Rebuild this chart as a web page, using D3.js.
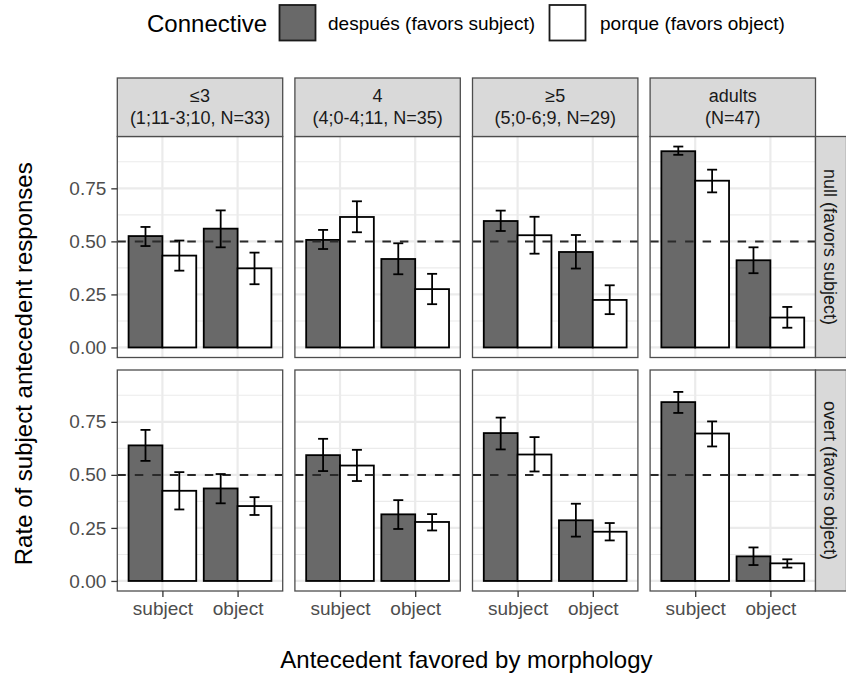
<!DOCTYPE html>
<html><head><meta charset="utf-8">
<script src="https://cdn.jsdelivr.net/npm/d3@7"></script>
<style>body{margin:0;background:#fff}svg{display:block;font-family:"Liberation Sans",Arial,Helvetica,sans-serif}</style>
</head><body><svg id="c" width="846" height="677"></svg>
<script>
// ---------- data ----------
const stripLine1 = ["≤3", "4", "≥5", "adults"];
const stripLine2 = ["(1;11-3;10, N=33)", "(4;0-4;11, N=35)", "(5;0-6;9, N=29)", "(N=47)"];
const rowLabels = ["null (favors subject)", "overt (favors object)"];
const morphology = ["subject", "object"];
const connectives = ["después (favors subject)", "porque (favors object)"];
const yTicks = [0, 0.25, 0.5, 0.75];
const yTickLabels = ["0.00", "0.25", "0.50", "0.75"];
const refLine = 0.5;

// values per age group: [subject, object]
// null row
const nullDespuesMean = [[0.525, 0.560], [0.507, 0.417], [0.596, 0.450], [0.925, 0.411]];
const nullDespuesLow  = [[0.478, 0.472], [0.464, 0.345], [0.549, 0.372], [0.908, 0.350]];
const nullDespuesHigh = [[0.568, 0.646], [0.554, 0.491], [0.645, 0.530], [0.947, 0.472]];
const nullPorqueMean  = [[0.433, 0.373], [0.615, 0.275], [0.529, 0.224], [0.786, 0.141]];
const nullPorqueLow   = [[0.362, 0.298], [0.543, 0.204], [0.442, 0.157], [0.731, 0.093]];
const nullPorqueHigh  = [[0.504, 0.447], [0.689, 0.347], [0.616, 0.293], [0.838, 0.191]];
// overt row
const overtDespuesMean = [[0.639, 0.436], [0.593, 0.314], [0.697, 0.286], [0.843, 0.116]];
const overtDespuesLow  = [[0.566, 0.366], [0.518, 0.245], [0.620, 0.209], [0.792, 0.075]];
const overtDespuesHigh = [[0.712, 0.504], [0.670, 0.381], [0.770, 0.364], [0.891, 0.158]];
const overtPorqueMean  = [[0.425, 0.353], [0.544, 0.278], [0.596, 0.232], [0.695, 0.083]];
const overtPorqueLow   = [[0.337, 0.311], [0.471, 0.238], [0.516, 0.191], [0.634, 0.063]];
const overtPorqueHigh  = [[0.513, 0.395], [0.618, 0.315], [0.678, 0.273], [0.752, 0.102]];

// ---------- build records ----------
const table = [
  [[nullDespuesMean, nullDespuesLow, nullDespuesHigh], [nullPorqueMean, nullPorqueLow, nullPorqueHigh]],
  [[overtDespuesMean, overtDespuesLow, overtDespuesHigh], [overtPorqueMean, overtPorqueLow, overtPorqueHigh]]
];
const records = [];
table.forEach((row, r) => row.forEach((conn, c) => stripLine1.forEach((g, p) => morphology.forEach((m, k) => {
  records.push({row: r, panel: p, morph: m, conn: connectives[c], mean: conn[0][p][k], lo: conn[1][p][k], hi: conn[2][p][k]});
}))));

// ---------- layout ----------
const svg = d3.select("#c");
const panelLeft0 = 117.3, panelStep = 177.6, panelW = 165.4, panelH = 221;
const rowTops = [136.5, 370];
const stripTop = 78;
const rStripW = 31;
const F_BIG = 24, F_SMALL = 19, F_STRIP = 18;
const fills = {[connectives[0]]: "#696969", [connectives[1]]: "#ffffff"};

const yMax = d3.max(records, d => d.hi), yMin = 0;
const pad = (yMax - yMin) * 0.05;
const yDomain = [yMin - pad, yMax + pad];

const borderCol = "#4d4d4d";

// legend
const lg = svg.append("g");
lg.append("text").attr("x", 147).attr("y", 31.5).attr("font-size", F_BIG).attr("fill", "#000").text("Connective");
const legX = [279.5, 549.5], legLabX = [328, 600];
connectives.forEach((c, i) => {
  lg.append("rect").attr("x", legX[i]).attr("y", 5).attr("width", 36).attr("height", 35.5)
    .attr("fill", fills[c]).attr("stroke", "#1a1a1a").attr("stroke-width", 1.8);
  lg.append("text").attr("x", legLabX[i]).attr("y", 29.5).attr("font-size", F_SMALL).attr("fill", "#000").text(c);
});

rowTops.forEach((top, r) => {
  const y = d3.scaleLinear().domain(yDomain).range([top + panelH, top]);
  stripLine1.forEach((g, p) => {
    const left = panelLeft0 + p * panelStep;
    const unit = panelW / 2.2;
    const x = d3.scalePoint().domain(morphology).range([left + 0.6 * unit, left + panelW - 0.6 * unit]);
    const pg = svg.append("g");
    pg.append("rect").attr("x", left).attr("y", top).attr("width", panelW).attr("height", panelH).attr("fill", "#fff");
    // minor grid
    const minor = yTicks.map(t => t + 0.125).filter(t => t < yDomain[1]);
    pg.selectAll(".mn").data(minor).join("line")
      .attr("x1", left).attr("x2", left + panelW).attr("y1", d => y(d)).attr("y2", d => y(d))
      .attr("stroke", "#ebebeb").attr("stroke-width", 1.1);
    pg.selectAll(".mj").data(yTicks).join("line")
      .attr("x1", left).attr("x2", left + panelW).attr("y1", d => y(d)).attr("y2", d => y(d))
      .attr("stroke", "#ebebeb").attr("stroke-width", 2.2);
    pg.selectAll(".vx").data(morphology).join("line")
      .attr("x1", d => x(d)).attr("x2", d => x(d)).attr("y1", top).attr("y2", top + panelH)
      .attr("stroke", "#ebebeb").attr("stroke-width", 2.2);
    // bars
    const bw = 0.45 * unit;
    const recs = records.filter(d => d.row === r && d.panel === p);
    const off = c => (c === connectives[0] ? -bw : 0);
    pg.selectAll(".bar").data(recs).join("rect")
      .attr("x", d => x(d.morph) + off(d.conn)).attr("width", bw)
      .attr("y", d => y(d.mean)).attr("height", d => y(0) - y(d.mean))
      .attr("fill", d => fills[d.conn]).attr("stroke", "#000").attr("stroke-width", 1.8);
    // dashed reference
    pg.append("line").attr("x1", left).attr("x2", left + panelW).attr("y1", y(refLine)).attr("y2", y(refLine))
      .attr("stroke", "#2a2a2a").attr("stroke-width", 2).attr("stroke-dasharray", "8.5,9");
    // error bars
    const cap = 5;
    const eg = pg.selectAll(".eb").data(recs).join("g");
    eg.append("line").attr("x1", d => x(d.morph) + off(d.conn) + bw / 2).attr("x2", d => x(d.morph) + off(d.conn) + bw / 2)
      .attr("y1", d => y(d.lo)).attr("y2", d => y(d.hi)).attr("stroke", "#000").attr("stroke-width", 1.8);
    ["lo", "hi"].forEach(k => eg.append("line")
      .attr("x1", d => x(d.morph) + off(d.conn) + bw / 2 - cap).attr("x2", d => x(d.morph) + off(d.conn) + bw / 2 + cap)
      .attr("y1", d => y(d[k])).attr("y2", d => y(d[k])).attr("stroke", "#000").attr("stroke-width", 1.8));
    // border
    pg.append("rect").attr("x", left).attr("y", top).attr("width", panelW).attr("height", panelH)
      .attr("fill", "none").attr("stroke", borderCol).attr("stroke-width", 1.3);
    // top strip
    if (r === 0) {
      pg.append("rect").attr("x", left).attr("y", stripTop).attr("width", panelW).attr("height", top - stripTop)
        .attr("fill", "#d9d9d9").attr("stroke", borderCol).attr("stroke-width", 1.3);
      const cx = left + panelW / 2;
      pg.append("text").attr("x", cx).attr("y", 102).attr("text-anchor", "middle").attr("font-size", F_STRIP).attr("fill", "#1a1a1a").text(stripLine1[p]);
      pg.append("text").attr("x", cx).attr("y", 123.5).attr("text-anchor", "middle").attr("font-size", F_STRIP).attr("fill", "#1a1a1a").text(stripLine2[p]);
    }
    // x axis bottom row
    if (r === rowTops.length - 1) {
      const ax = pg.append("g").attr("transform", `translate(0,${top + panelH})`)
        .call(d3.axisBottom(x).tickSize(6).tickPadding(5));
      ax.select(".domain").remove();
      ax.selectAll("line").attr("stroke", "#333").attr("stroke-width", 1.3);
      ax.selectAll("text").attr("font-size", F_SMALL).attr("fill", "#4d4d4d").attr("font-family", "Liberation Sans, Arial, sans-serif");
    }
    // y axis left column
    if (p === 0) {
      const ay = pg.append("g").attr("transform", `translate(${left},0)`)
        .call(d3.axisLeft(y).tickValues(yTicks).tickFormat((d, i) => yTickLabels[i]).tickSize(6).tickPadding(5));
      ay.select(".domain").remove();
      ay.selectAll("line").attr("stroke", "#333").attr("stroke-width", 1.3);
      ay.selectAll("text").attr("font-size", F_SMALL).attr("fill", "#4d4d4d").attr("font-family", "Liberation Sans, Arial, sans-serif");
    }
    // right strip
    if (p === stripLine1.length - 1) {
      const sx = left + panelW;
      pg.append("rect").attr("x", sx).attr("y", top).attr("width", rStripW).attr("height", panelH)
        .attr("fill", "#d9d9d9").attr("stroke", borderCol).attr("stroke-width", 1.3);
      pg.append("text").attr("transform", `translate(${sx + 8.2},${top + panelH / 2}) rotate(90)`)
        .attr("text-anchor", "middle").attr("font-size", F_STRIP).attr("fill", "#1a1a1a").text(rowLabels[r]);
    }
  });
});

// axis titles
const plotL = panelLeft0, plotR = panelLeft0 + 3 * panelStep + panelW;
svg.append("text").attr("x", (plotL + plotR) / 2).attr("y", 668).attr("text-anchor", "middle")
  .attr("font-size", F_BIG).attr("fill", "#000").text("Antecedent favored by morphology");
svg.append("text").attr("transform", `translate(32,${(rowTops[0] + rowTops[1] + panelH) / 2}) rotate(-90)`)
  .attr("text-anchor", "middle").attr("font-size", F_BIG).attr("fill", "#000").text("Rate of subject antecedent responses");
</script></body></html>
